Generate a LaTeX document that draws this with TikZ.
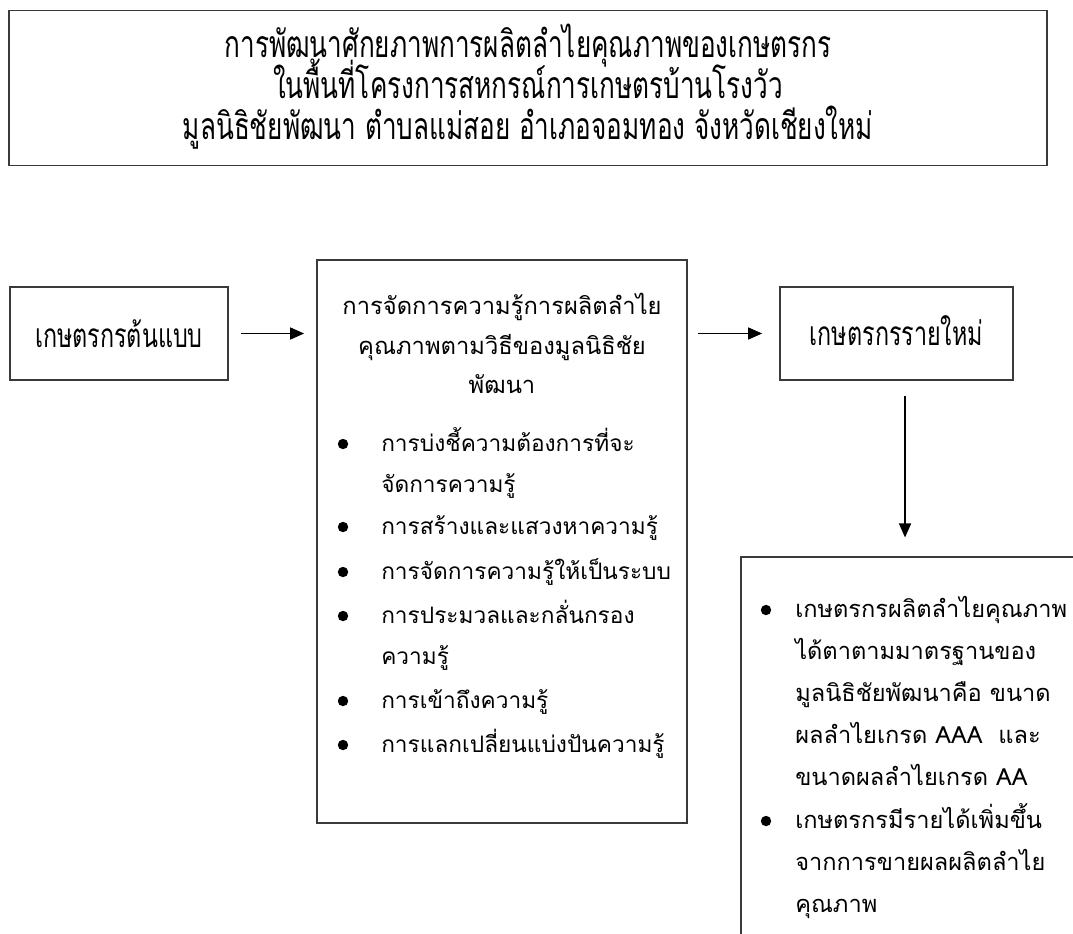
\documentclass[tikz,border=0pt]{standalone}
\usepackage{fontspec}
\setmainfont{Liberation Sans}
\newfontfamily\thai[Script=Thai]{Loma}
\newfontfamily\thainarrow[Script=Thai,FakeStretch=0.7]{Loma}
\usetikzlibrary{arrows.meta}
\definecolor{edge}{HTML}{3A3A3A}
\tikzset{
  box/.style={draw=edge, line width=1.3pt, rectangle, inner sep=0pt},
  arr/.style={draw=black, line width=1.1pt, -{Triangle[length=10.5pt,width=9pt]}},
  ttl/.style={font=\thainarrow\fontsize{28}{32}\selectfont, anchor=base, inner sep=0pt},
  nar/.style={font=\thainarrow\fontsize{25}{30}\selectfont, anchor=base, inner sep=0pt},
  txt/.style={font=\thai\fontsize{17}{20}\selectfont, anchor=base west, inner sep=0pt},
  rtxt/.style={font=\thai\fontsize{17.7}{20}\selectfont, anchor=base west, inner sep=0pt},
  ctxt/.style={font=\thai\fontsize{17.8}{20}\selectfont, anchor=base, inner sep=0pt},
  dot/.style={circle, fill=black, inner sep=0pt, minimum size=7.8pt}
}
\begin{document}
\begin{tikzpicture}[x=0.75pt,y=-0.75pt]
\clip (0,0) rectangle (1073,933);
\fill[white] (0,0) rectangle (1073,933);
% boxes
\node[box, minimum width=778.5pt, minimum height=116.25pt] (title) at (528,88) {};
\node[box, minimum width=163.5pt, minimum height=69.75pt] (lb) at (119,333.5) {};
\node[box, minimum width=277.5pt, minimum height=422.25pt] (mid) at (502,541.5) {};
\node[box, minimum width=174.75pt, minimum height=69.75pt] (rt) at (896.5,333.5) {};
\node[box, minimum width=269.25pt, minimum height=302.25pt] (bb) at (920.5,758.5) {};
% title text
\node[ttl] (t1) at (528,57) {การพัฒนาศักยภาพการผลิตลำไยคุณภาพของเกษตรกร};
\node[ttl] (t2) at (528,98) {ในพื้นที่โครงการสหกรณ์การเกษตรบ้านโรงวัว};
\node[ttl] (t3) at (528,139) {มูลนิธิชัยพัฒนา ตำบลแม่สอย อำเภอจอมทอง จังหวัดเชียงใหม่};
% side boxes text
\node[nar] (lbt) at (119,347) {เกษตรกรต้นแบบ};
\node[nar] (rtt) at (896.5,345) {เกษตรกรรายใหม่};
% middle box
\node[ctxt] (m1) at (502,314) {การจัดการความรู้การผลิตลำไย};
\node[ctxt] (m2) at (502,354) {คุณภาพตามวิธีของมูลนิธิชัย};
\node[ctxt] (m3) at (502,393) {พัฒนา};
\node[dot] (d1) at (343,444) {};
\node[txt] (b1) at (381,451) {การบ่งชี้ความต้องการที่จะ};
\node[txt] (b1b) at (381,492) {จัดการความรู้};
\node[dot] (d2) at (343,527) {};
\node[txt] (b2) at (381,534) {การสร้างและแสวงหาความรู้};
\node[dot] (d3) at (343,572) {};
\node[txt] (b3) at (381,579) {การจัดการความรู้ให้เป็นระบบ};
\node[dot] (d4) at (343,616) {};
\node[txt] (b4) at (381,623) {การประมวลและกลั่นกรอง};
\node[txt] (b4b) at (381,664) {ความรู้};
\node[dot] (d5) at (343,701) {};
\node[txt] (b5) at (381,708) {การเข้าถึงความรู้};
\node[dot] (d6) at (343,745) {};
\node[txt] (b6) at (381,752) {การแลกเปลี่ยนแบ่งปันความรู้};
% bottom right box
\node[dot] (e1) at (766,610) {};
\node[rtxt] (r1) at (795,617) {เกษตรกรผลิตลำไยคุณภาพ};
\node[rtxt] (r2) at (795,659) {ได้ตาตามมาตรฐานของ};
\node[rtxt] (r3) at (795,701) {มูลนิธิชัยพัฒนาคือ ขนาด};
\node[rtxt] (r4) at (795,743) {ผลลำไยเกรด AAA\ \ และ};
\node[rtxt] (r5) at (795,785) {ขนาดผลลำไยเกรด AA};
\node[dot] (e2) at (766,821) {};
\node[rtxt] (r6) at (795,828) {เกษตรกรมีรายได้เพิ่มขึ้น};
\node[rtxt] (r7) at (795,870) {จากการขายผลผลิตลำไย};
\node[rtxt] (r8) at (795,912) {คุณภาพ};
% connectors
\draw[arr, shorten <=9pt, shorten >=9pt] (lb.east) -- (lb.east -| mid.west);
\draw[arr, shorten <=7.5pt, shorten >=12.75pt] (rt.west -| mid.east) -- (rt.west);
\draw[arr, shorten <=11pt, shorten >=14pt] ([xshift=6.4pt]rt.south) -- ([xshift=6.4pt]rt.south |- bb.north);
\end{tikzpicture}
\end{document}
